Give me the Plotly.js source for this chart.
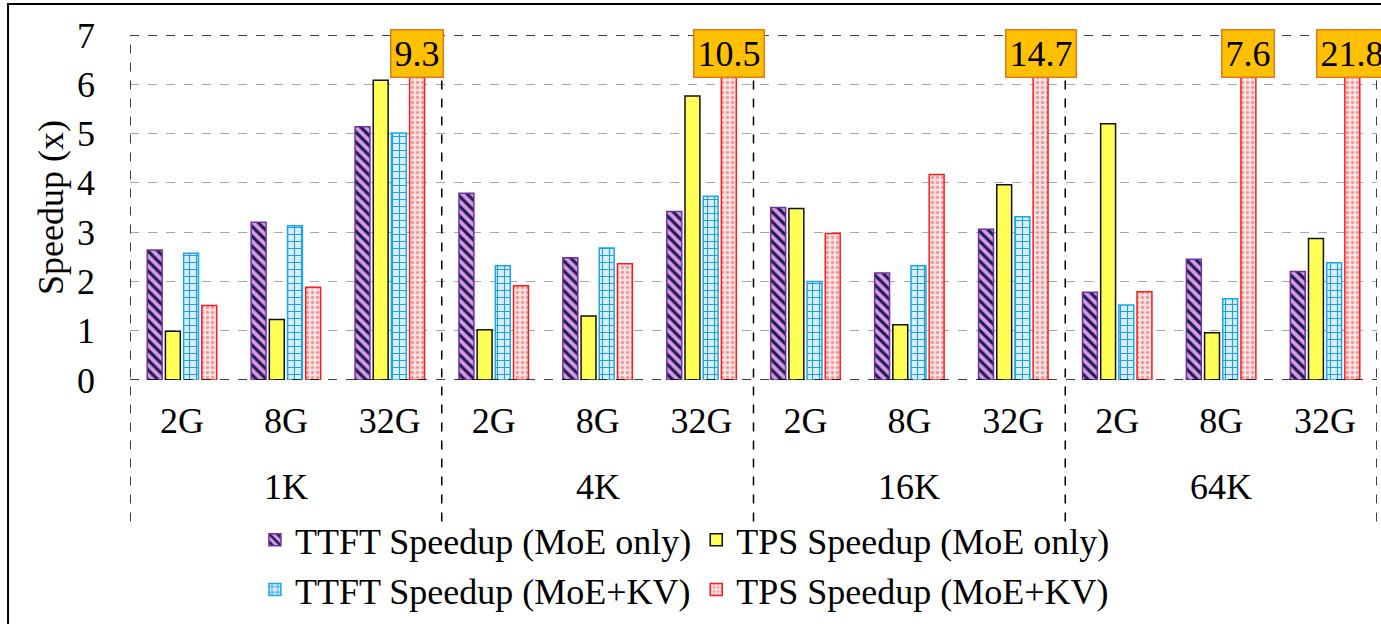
<!DOCTYPE html>
<html>
<head>
<meta charset="utf-8">
<script src="https://cdn.plot.ly/plotly-3.0.1.min.js"></script>
<style>html,body{margin:0;padding:0;background:#fff;}#chart{width:1381px;height:624px;}</style>
</head>
<body>
<div id="chart"></div>
<script>
// ---- data ----
const contextGroups = ["1K", "4K", "16K", "64K"];
const gpuLabels = ["2G", "8G", "32G"];
const ttftMoE   = [2.64, 3.20, 5.14,  3.79, 2.48, 3.42,  3.50, 2.17, 3.06,  1.78, 2.45, 2.20];
const tpsMoE    = [0.99, 1.23, 6.08,  1.02, 1.30, 5.76,  3.48, 1.12, 3.96,  5.20, 0.96, 2.87];
const ttftMoEKV = [2.57, 3.13, 5.01,  2.32, 2.68, 3.73,  2.00, 2.32, 3.31,  1.52, 1.65, 2.38];
const tpsMoEKV  = [1.51, 1.88, 9.3,   1.91, 2.36, 10.5,  2.97, 4.17, 14.7,  1.79, 7.6,  21.8];
const seriesNames = ["TTFT Speedup (MoE only)", "TPS Speedup (MoE only)", "TTFT Speedup (MoE+KV)", "TPS Speedup (MoE+KV)"];

// ---- derived ----
const xIdx = [];
const xTickText = [];
contextGroups.forEach((g, gi) => gpuLabels.forEach((s, si) => { xIdx.push(gi * gpuLabels.length + si); xTickText.push(s); }));

const FONT = "Liberation Serif";
const YMAX = 7;
const BARGAP = 0.3;

const traces = [
  {name: seriesNames[0], y: ttftMoE, marker: {color: "#D89BE3", line: {color: "#7030A0", width: 1.5},
     pattern: {shape: "\\", fgcolor: "#1B1B4F", bgcolor: "#D89BE3", size: 7, solidity: 0.45}}},
  {name: seriesNames[1], y: tpsMoE, marker: {color: "#FFFF55", line: {color: "#111111", width: 1.5}}},
  {name: seriesNames[2], y: ttftMoEKV, marker: {color: "#CDEBFA", line: {color: "#1AA7E8", width: 1.5},
     pattern: {shape: "+", fgcolor: "#2A9BE0", bgcolor: "#D6F0FF", size: 7, solidity: 0.3}}},
  {name: seriesNames[3], y: tpsMoEKV, marker: {color: "#FBD3D3", line: {color: "#FF1A1A", width: 1.5},
     pattern: {shape: ".", fgcolor: "#EE9A9A", bgcolor: "#FDE3E3", size: 5, solidity: 0.35}}}
].map(t => Object.assign({type: "bar", x: xIdx, cliponaxis: true, hoverinfo: "skip"}, t));

// red-bar offset inside group (4 bars)
const slot = (1 - BARGAP) / 4;
const redOffset = (1 - BARGAP) / 2 - slot / 2;

const annotations = [];
// group labels
contextGroups.forEach((g, gi) => annotations.push({
  text: g, x: gi * gpuLabels.length + (gpuLabels.length - 1) / 2, xref: "x",
  y: -0.31, yref: "paper", yanchor: "middle", showarrow: false,
  font: {family: FONT, size: 36, color: "#000"}
}));
// value boxes for clipped bars
tpsMoEKV.forEach((v, i) => { if (v > YMAX) annotations.push({
  text: v.toFixed(1), x: xIdx[i] + redOffset, xref: "x", y: 0.946, yref: "paper",
  yanchor: "middle", xanchor: "center", showarrow: false,
  font: {family: FONT, size: 36, color: "#000"},
  bgcolor: "#FFC000", bordercolor: "#E07A1F", borderwidth: 1.5, borderpad: 3
}); });

const shapes = [];
const dash = {color: "#000", width: 1.5, dash: "dash"};
// top & bottom dashed lines
[0, YMAX].forEach(v => shapes.push({type: "line", xref: "paper", yref: "y", x0: 0, x1: 1, y0: v, y1: v, line: dash, layer: "above"}));
// vertical separators
for (let k = 0; k <= contextGroups.length; k++) {
  const xv = k * gpuLabels.length - 0.5;
  shapes.push({type: "line", xref: "x", yref: "paper", x0: xv, x1: xv, y0: -0.41, y1: 1, line: dash, layer: "above"});
}
// outer figure frame
shapes.push({type: "rect", xref: "paper", yref: "paper", x0: -0.0978, x1: 1.2, y0: -1.2, y1: 1.09,
  line: {color: "#000", width: 2}, fillcolor: "rgba(0,0,0,0)"});

const layout = {
  width: 1381, height: 624,
  margin: {l: 130, r: 4, t: 35, b: 244},
  paper_bgcolor: "#fff", plot_bgcolor: "#fff",
  font: {family: FONT, size: 36, color: "#000"},
  barmode: "group", bargap: BARGAP, bargroupgap: 0.18,
  showlegend: true,
  legend: {orientation: "h", x: 0.445, xanchor: "center", y: -0.695, yanchor: "bottom",
    font: {family: FONT, size: 36, color: "#000"}, traceorder: "normal", bgcolor: "rgba(0,0,0,0)"},
  xaxis: {type: "linear", range: [-0.5, xIdx.length - 0.5], tickvals: xIdx, ticktext: xTickText,
    showgrid: false, zeroline: false, showline: false, ticks: "", ticklabelstandoff: 16, automargin: false,
    tickfont: {family: FONT, size: 36, color: "#000"}, fixedrange: true},
  yaxis: {range: [0, YMAX], dtick: 1, tick0: 0, showgrid: true, gridcolor: "#A6A6A6", griddash: "dash", gridwidth: 1.2,
    zeroline: false, showline: false, ticks: "", ticklabelstandoff: 34, automargin: false,
    tickfont: {family: FONT, size: 36, color: "#000"},
    title: {text: "Speedup (x)", font: {family: FONT, size: 36, color: "#000"}, standoff: 2}, fixedrange: true},
  annotations: annotations,
  shapes: shapes
};

Plotly.newPlot("chart", traces, layout, {displayModeBar: false, staticPlot: true});
</script>
</body>
</html>
